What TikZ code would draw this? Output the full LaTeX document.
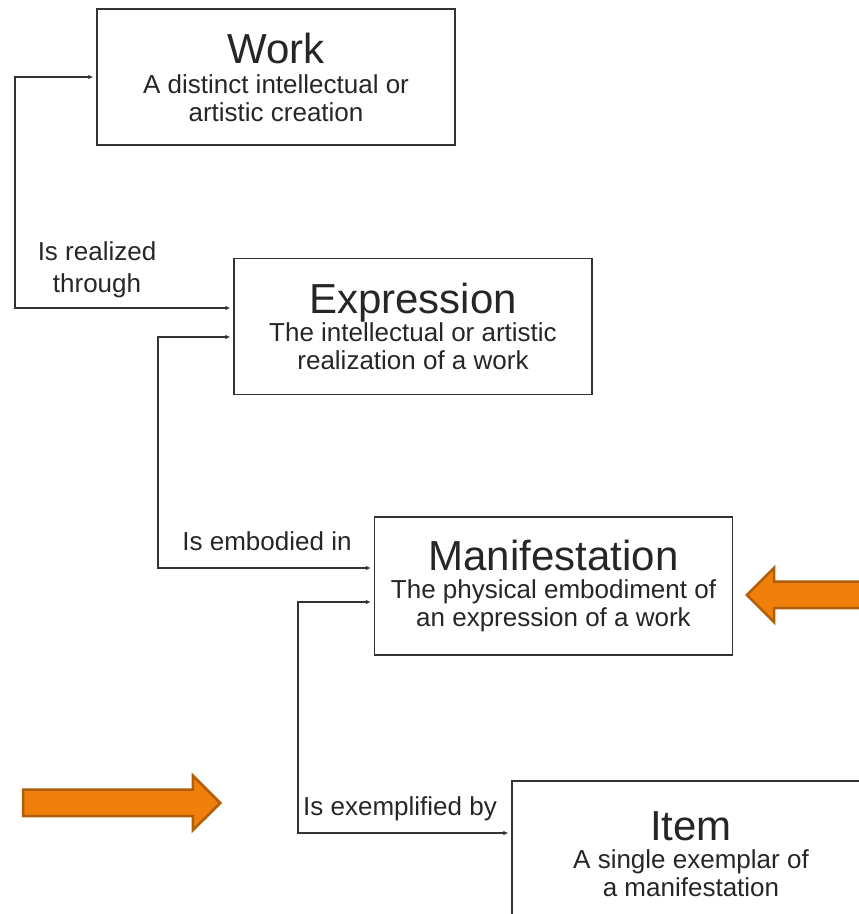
\documentclass[tikz,border=0pt]{standalone}
\usepackage{fontspec}
\setmainfont{Liberation Sans}
\usetikzlibrary{positioning,arrows.meta,shapes.arrows}
\definecolor{linegray}{HTML}{333333}
\definecolor{textgray}{HTML}{262626}
\definecolor{pointerfill}{HTML}{F07F0B}
\definecolor{pointerdraw}{HTML}{B05E08}
\tikzset{
  entity/.style={draw=linegray, line width=1.3pt, minimum width=358pt, minimum height=136pt, align=center, text=textgray, font=\fontsize{26}{28}\selectfont},
  relation/.style={draw=linegray, line width=1.4pt, {Latex[length=5pt,width=4.5pt]}-{Latex[length=5pt,width=4.5pt]}, shorten <=3pt, shorten >=3pt},
  relation label/.style={text=textgray, align=center, font=\fontsize{26}{32}\selectfont},
  pointer/.style={single arrow, single arrow head extend=14pt, fill=pointerfill, draw=pointerdraw, line width=2.5pt, inner xsep=0pt, inner ysep=12pt, minimum height=197pt, anchor=tip},
}
\newcommand{\entitytitle}[1]{{\fontsize{42}{46}\selectfont #1}}

\begin{document}
\begin{tikzpicture}[x=1pt,y=1pt]
\useasboundingbox (0,0) rectangle (859,914);
% the nodes
\node [entity] (work) at (276,837) {\entitytitle{Work}\\[2pt]A distinct intellectual or\\artistic creation};
\node [entity] (expression) at (413,587.5) {\entitytitle{Expression}\\The intellectual or artistic\\realization of a work};
\node [entity, minimum height=138pt] (manifestation) at (553.5,328) {\entitytitle{Manifestation}\\The physical embodiment of\\an expression of a work};
\node [entity, minimum height=146pt] (item) at (691,60) {\entitytitle{Item}\\A single exemplar of\\a manifestation};
\node [relation label] (realizedlabel) at (97,644) {Is realized\\through};
\node [relation label] (embodiedlabel) at (267,373) {Is embodied in};
\node [relation label] (exemplifiedlabel) at (400,105) {Is exemplified by};
\node [pointer] (pointerA) at (222,111) {};
\node [pointer, shape border rotate=180] (pointerB) at (745,319) {};
\coordinate (realcorner) at (15,606);
\coordinate (embodycorner) at (158,346);
\coordinate (exemplifycorner) at (298,81);
%drawings of connectors
\draw[relation] (work.west) -| (realcorner) -- (realcorner -| expression.west);
\draw[relation] ([yshift=-10.5pt]expression.west) -| (embodycorner) -- (embodycorner -| manifestation.west);
\draw[relation] ([yshift=-16pt]manifestation.west) -| (exemplifycorner) -- (exemplifycorner -| item.west);
\end{tikzpicture}
\end{document}
